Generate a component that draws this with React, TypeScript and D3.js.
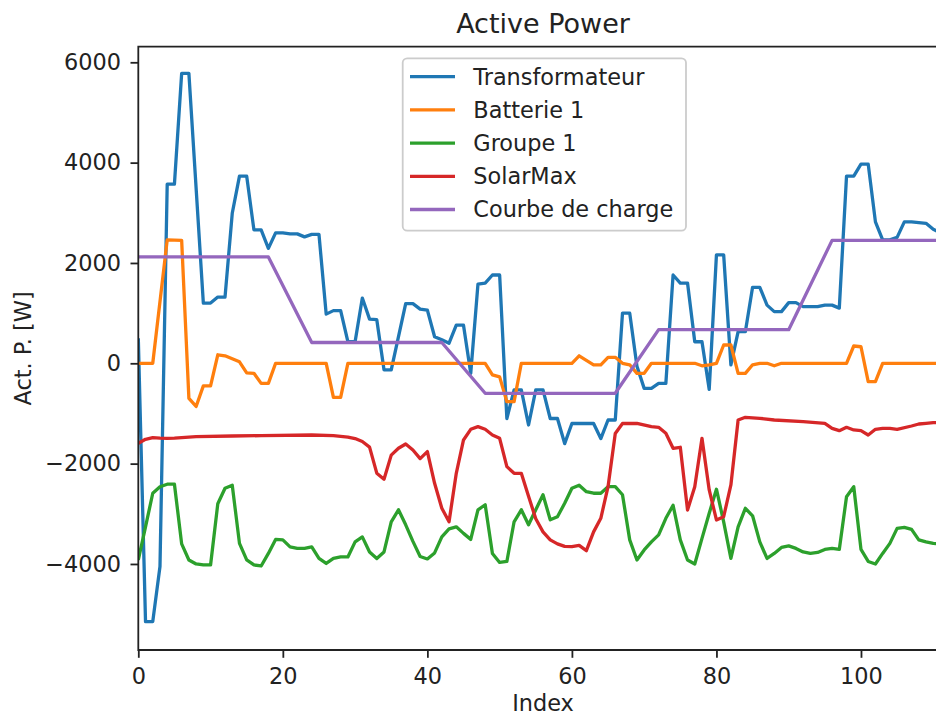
import React, { useEffect, useRef } from "react";
import * as d3 from "d3";

// [index, value] vertices
const transformateur: [number, number][] = [
  [0, 500], [1, -5150], [2, -5150], [3, -4050], [4, 3570], [5, 3570], [6, 5780], [7, 5780],
  [9, 1200], [10, 1200], [11, 1320], [12, 1320], [13, 2990], [14, 3730], [15, 3730],
  [16, 2660], [17, 2660], [18, 2290], [19, 2600], [20, 2600], [21, 2580], [22, 2580],
  [23, 2520], [24, 2570], [25, 2570], [26, 980], [27, 1050], [28, 1050], [29, 430], [30, 430],
  [31, 1300], [32, 880], [33, 870], [34, -130], [35, -130], [37, 1190], [38, 1190],
  [39, 1080], [40, 1060], [41, 530], [42, 470], [43, 400], [44, 760], [45, 760], [46, -200],
  [47, 1580], [48, 1600], [49, 1760], [50, 1760], [51, -1100], [52, -530], [53, -530],
  [54, -1230], [55, -530], [56, -530], [57, -1100], [58, -1100], [59, -1600], [60, -1200],
  [63, -1200], [64, -1500], [65, -1130], [66, -1130], [67, 1000], [68, 1000], [69, -60],
  [70, -500], [71, -500], [72, -400], [73, -400], [74, 1760], [75, 1600], [76, 1600],
  [77, 430], [78, 430], [79, -520], [80, 2160], [81, 2160], [82, -30], [83, 630], [84, 630],
  [85, 1515], [86, 1515], [87, 1160], [88, 1030], [89, 1030], [90, 1210], [91, 1210],
  [92, 1130], [94, 1130], [95, 1160], [96, 1160], [97, 1100], [98, 3730], [99, 3730],
  [100, 3970], [101, 3970], [102, 2820], [103, 2460], [104, 2460], [105, 2510], [106, 2820],
  [107, 2820], [109, 2790], [110, 2670], [111, 2600], [112, 2550],
];

const batterie: [number, number][] = [
  [0, 0], [2, 0], [4, 2460], [6, 2450], [7, -700], [8, -860], [9, -450], [10, -450],
  [11, 170], [12, 150], [13, 90], [14, 30], [15, -190], [16, -200], [17, -400], [18, -400],
  [19, 0], [26, 0], [27, -680], [28, -680], [29, 0], [48, 0], [49, -230], [50, -270],
  [51, -765], [52, -765], [53, 0], [60, 0], [61, 150], [62, 60], [63, -30], [64, -30],
  [65, 120], [66, 120], [67, 0], [68, -30], [69, -200], [70, -200], [71, 0], [77, 0],
  [78, -50], [79, -30], [80, 0], [81, 365], [82, 365], [83, -200], [84, -200], [85, -30],
  [86, 0], [87, 0], [88, -50], [89, 0], [98, 0], [99, 345], [100, 330], [101, -366],
  [102, -366], [103, 0], [112, 0],
];

const groupe: [number, number][] = [
  [0, -3920], [1, -3260], [2, -2590], [3, -2460], [4, -2410], [5, -2410], [6, -3600],
  [7, -3920], [8, -4000], [9, -4020], [10, -4020], [11, -2800], [12, -2490], [13, -2430],
  [14, -3590], [15, -3920], [16, -4020], [17, -4040], [18, -3790], [19, -3510], [20, -3520],
  [21, -3660], [22, -3690], [23, -3690], [24, -3660], [25, -3890], [26, -3990], [27, -3890],
  [28, -3860], [29, -3860], [30, -3560], [31, -3460], [32, -3760], [33, -3890], [34, -3760],
  [35, -3160], [36, -2920], [37, -3220], [38, -3550], [39, -3850], [40, -3900], [41, -3780],
  [42, -3460], [43, -3300], [44, -3260], [45, -3390], [46, -3510], [47, -2920], [48, -2820],
  [49, -3790], [50, -3970], [51, -3950], [52, -3160], [53, -2920], [54, -3220], [55, -2920],
  [56, -2620], [57, -3120], [58, -3060], [59, -2790], [60, -2490], [61, -2430], [62, -2560],
  [63, -2590], [64, -2590], [65, -2460], [66, -2460], [67, -2620], [68, -3520], [69, -3920],
  [70, -3720], [71, -3560], [72, -3420], [73, -3090], [74, -2830], [75, -3520], [76, -3920],
  [77, -4000], [78, -3490], [79, -2990], [80, -2510], [81, -3160], [82, -3890], [83, -3260],
  [84, -2890], [85, -3040], [86, -3560], [87, -3890], [88, -3790], [89, -3670], [90, -3640],
  [91, -3690], [92, -3760], [93, -3790], [94, -3770], [95, -3710], [96, -3690], [97, -3710],
  [98, -2660], [99, -2460], [100, -3710], [101, -3950], [102, -4000], [103, -3790],
  [104, -3590], [105, -3290], [106, -3270], [107, -3310], [108, -3520], [109, -3560],
  [110, -3590], [111, -3600], [112, -3600],
];

const solarMax: [number, number][] = [
  [0, -1595], [1, -1515], [2, -1480], [3, -1490], [4, -1495], [5, -1490], [8, -1462],
  [13, -1449], [17, -1442], [24, -1429], [27, -1442], [29, -1470], [30, -1500], [31, -1560],
  [32, -1670], [33, -2190], [34, -2310], [35, -1830], [36, -1694], [37, -1608], [38, -1728],
  [39, -1900], [40, -1760], [41, -2392], [42, -2890], [43, -3157], [44, -2193], [45, -1528],
  [46, -1316], [47, -1263], [48, -1316], [49, -1429], [50, -1495], [51, -2060], [52, -2193],
  [53, -2193], [54, -2650], [55, -3100], [56, -3360], [57, -3520], [58, -3600], [59, -3650],
  [60, -3655], [61, -3630], [62, -3735], [63, -3360], [64, -3090], [65, -2460], [66, -1400],
  [67, -1200], [69, -1196], [71, -1263], [72, -1276], [73, -1395], [74, -1694], [75, -1674],
  [76, -2924], [77, -2460], [78, -1495], [79, -2525], [80, -3123], [81, -3057], [82, -2425],
  [83, -1130], [84, -1076], [86, -1096], [88, -1130], [92, -1163], [95, -1196], [96, -1296],
  [97, -1343], [98, -1276], [99, -1329], [100, -1343], [101, -1429], [102, -1316],
  [103, -1296], [104, -1296], [105, -1316], [107, -1250], [108, -1210], [109, -1196],
  [110, -1183], [112, -1180],
];

const courbe: [number, number][] = [
  [0, 2120], [18, 2120], [24, 415], [42, 415], [48, -598], [66, -598], [72, 670], [90, 670],
  [96, 2450], [112, 2450],
];

const seriesNames = ["Transformateur", "Batterie 1", "Groupe 1", "SolarMax", "Courbe de charge"];
const seriesData = [transformateur, batterie, groupe, solarMax, courbe];
const colors = ["#1f77b4", "#ff7f0e", "#2ca02c", "#d62728", "#9467bd"];
const xTicks = [0, 20, 40, 60, 80, 100];
const yTicks = [-4000, -2000, 0, 2000, 4000, 6000];

const ActivePower = () => {
  const svgRef = useRef(null);
  const width = 936;
  const height = 715;
  const plot = { left: 138.3, right: 947.7, top: 46.7, bottom: 650 };
  const font = "'DejaVu Sans', sans-serif";

  useEffect(() => {
    const svg = d3.select(svgRef.current);
    svg.selectAll("*").remove();

    const x = d3.scaleLinear().domain([0, 112]).range([plot.left, plot.right]);
    const y = d3.scaleLinear().domain([-5715, 6311]).range([plot.bottom, plot.top]);

    svg
      .append("defs")
      .append("clipPath")
      .attr("id", "plot-clip")
      .append("rect")
      .attr("x", plot.left)
      .attr("y", plot.top)
      .attr("width", plot.right - plot.left)
      .attr("height", plot.bottom - plot.top);

    // lines
    const line = d3
      .line<[number, number]>()
      .x((d) => x(d[0]))
      .y((d) => y(d[1]));

    const g = svg.append("g").attr("clip-path", "url(#plot-clip)");
    seriesData.forEach((s, i) => {
      g.append("path")
        .attr("d", line(s))
        .attr("fill", "none")
        .attr("stroke", colors[i])
        .attr("stroke-width", 3.3)
        .attr("stroke-linejoin", "round");
    });

    // axes
    const fmt = (d: number) => (d < 0 ? "\u2212" + Math.abs(d) : String(d));
    const xAxis = svg
      .append("g")
      .attr("transform", `translate(0,${plot.bottom})`)
      .call(d3.axisBottom(x).tickValues(xTicks).tickSize(7.8).tickPadding(10.2));
    const yAxis = svg
      .append("g")
      .attr("transform", `translate(${plot.left},0)`)
      .call(d3.axisLeft(y).tickValues(yTicks).tickFormat(fmt as any).tickSize(7.8).tickPadding(9.5));

    [xAxis, yAxis].forEach((a) => {
      a.select(".domain").remove();
      a.selectAll("line").attr("stroke", "#222").attr("stroke-width", 1.8);
      a.selectAll("text")
        .attr("fill", "#222")
        .style("font-family", font)
        .style("font-size", "22.4px");
    });

    // spines
    svg
      .append("path")
      .attr(
        "d",
        `M${plot.right},${plot.top}H${plot.left}V${plot.bottom}H${plot.right}`
      )
      .attr("fill", "none")
      .attr("stroke", "#222")
      .attr("stroke-width", 1.8);

    // legend
    const lg = svg.append("g");
    lg.append("rect")
      .attr("x", 402.7)
      .attr("y", 58.3)
      .attr("width", 283.3)
      .attr("height", 172.4)
      .attr("rx", 4.5)
      .attr("fill", "white")
      .attr("fill-opacity", 0.8)
      .attr("stroke", "#cccccc")
      .attr("stroke-width", 1.8);
    seriesNames.forEach((name, i) => {
      const cy = 76.7 + i * 33.2;
      lg.append("line")
        .attr("x1", 410)
        .attr("x2", 455)
        .attr("y1", cy)
        .attr("y2", cy)
        .attr("stroke", colors[i])
        .attr("stroke-width", 3.3);
      lg.append("text")
        .attr("x", 473.3)
        .attr("y", cy)
        .attr("dy", "0.35em")
        .attr("fill", "#222")
        .style("font-family", font)
        .style("font-size", "22.4px")
        .text(name);
    });

    // title + labels
    svg
      .append("text")
      .attr("x", (plot.left + plot.right) / 2)
      .attr("y", 33)
      .attr("text-anchor", "middle")
      .attr("fill", "#222")
      .style("font-family", font)
      .style("font-size", "27px")
      .text("Active Power");

    svg
      .append("text")
      .attr("x", (plot.left + plot.right) / 2)
      .attr("y", 711)
      .attr("text-anchor", "middle")
      .attr("fill", "#222")
      .style("font-family", font)
      .style("font-size", "22.4px")
      .text("Index");

    svg
      .append("text")
      .attr("transform", `translate(31,${(plot.top + plot.bottom) / 2}) rotate(-90)`)
      .attr("text-anchor", "middle")
      .attr("fill", "#222")
      .style("font-family", font)
      .style("font-size", "22.4px")
      .text("Act. P. [W]");
  }, []);

  return (
    <svg
      ref={svgRef}
      width={width}
      height={height}
      style={{ position: "absolute", left: 0, top: 0, background: "white" }}
    />
  );
};

export default function App() {
  return <ActivePower />;
}
